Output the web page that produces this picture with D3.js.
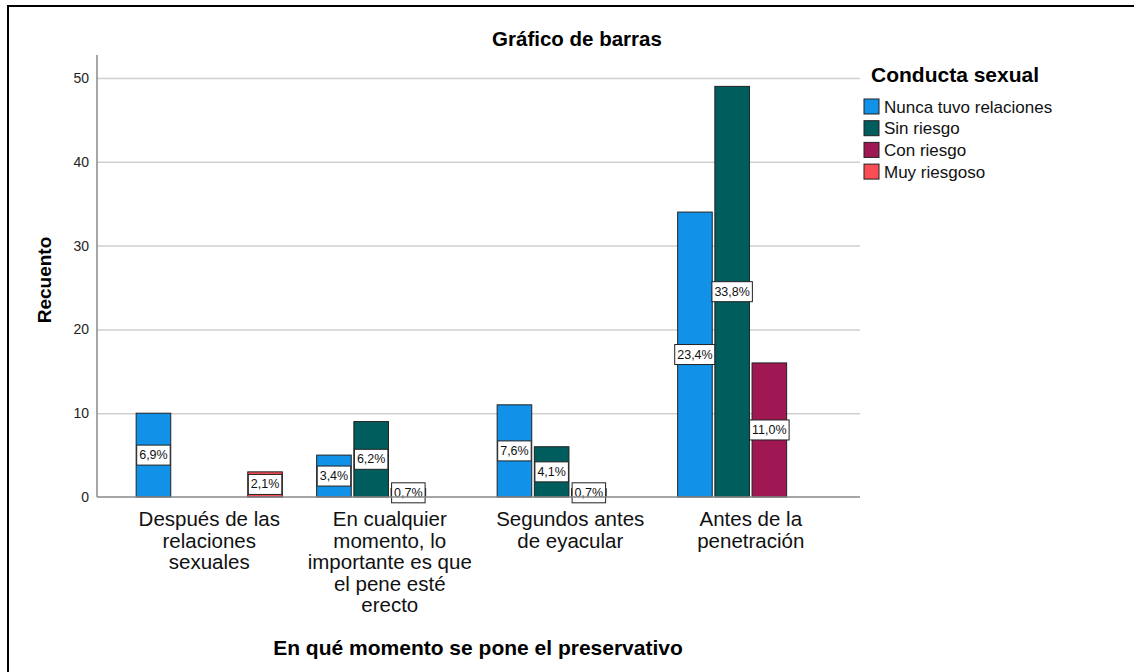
<!DOCTYPE html>
<html>
<head>
<meta charset="utf-8">
<script src="https://cdn.jsdelivr.net/npm/d3@7"></script>
<style>
  body { margin: 0; background: #fff; }
  text { font-family: Arial, "Liberation Sans", sans-serif; }
</style>
</head>
<body>
<svg width="1134" height="672"></svg>
<script>
var categories = [
    "Después de las\nrelaciones\nsexuales",
    "En cualquier\nmomento, lo\nimportante es que\nel pene esté\nerecto",
    "Segundos antes\nde eyacular",
    "Antes de la\npenetración"
];
var series = ["Nunca tuvo relaciones", "Sin riesgo", "Con riesgo", "Muy riesgoso"];
var colors = ["#1192e8", "#005d5d", "#9f1853", "#fa4d56"];
var nunca = [10, 5, 11, 34];
var sinRiesgo = [0, 9, 6, 49];
var conRiesgo = [0, 1, 1, 16];
var muyRiesgoso = [3, 0, 0, 0];
var yTicks = [0, 10, 20, 30, 40, 50];

var values = [nunca, sinRiesgo, conRiesgo, muyRiesgoso];
var total = d3.sum(values, function(v) { return d3.sum(v); });

var svg = d3.select("svg");

// outer frame (only left/top edges visible in the picture)
svg.append("rect")
    .attr("x", 8).attr("y", 6)
    .attr("width", 1200).attr("height", 800)
    .attr("fill", "none")
    .attr("stroke", "#000")
    .attr("stroke-width", 2);

var plotLeft = 97, plotRight = 860, plotTop = 55, plotBottom = 497;

var y = d3.scaleLinear().domain([0, 50]).range([plotBottom, 78]);
var x0 = d3.scaleBand().domain(d3.range(categories.length))
    .range([119, 841]).paddingInner(0.19).paddingOuter(0.095);
var x1 = d3.scaleBand().domain(d3.range(series.length))
    .range([0, x0.bandwidth()]).paddingInner(0.07);

// gridlines
svg.append("g").selectAll("line").data(yTicks.slice(1)).enter().append("line")
    .attr("x1", plotLeft).attr("x2", plotRight)
    .attr("y1", function(d) { return y(d) + 0.5; })
    .attr("y2", function(d) { return y(d) + 0.5; })
    .attr("stroke", "#cfcfcf")
    .attr("stroke-width", 1.5);

// y axis
var yAxis = svg.append("g")
    .attr("transform", "translate(" + plotLeft + ",0)")
    .call(d3.axisLeft(y).tickValues(yTicks).tickSize(0).tickPadding(8));
yAxis.select(".domain").remove();
yAxis.selectAll("text").attr("font-size", 14).attr("fill", "#222")
    .attr("font-family", "Arial, 'Liberation Sans', sans-serif");
svg.append("line")
    .attr("x1", plotLeft).attr("x2", plotLeft).attr("y1", plotTop).attr("y2", plotBottom)
    .attr("stroke", "#888").attr("stroke-width", 1.5);

// bars
var groups = svg.append("g").selectAll("g").data(categories).enter().append("g")
    .attr("transform", function(d, i) { return "translate(" + x0(i) + ",0)"; });

var cells = groups.selectAll("g.cell")
    .data(function(d, i) {
        return series.map(function(s, j) { return {s: j, c: i, v: values[j][i]}; })
            .filter(function(e) { return e.v > 0; });
    })
    .enter().append("g").attr("class", "cell");

cells.append("rect")
    .attr("x", function(d) { return x1(d.s); })
    .attr("y", function(d) { return y(d.v); })
    .attr("width", x1.bandwidth())
    .attr("height", function(d) { return plotBottom - y(d.v); })
    .attr("fill", function(d) { return colors[d.s]; })
    .attr("stroke", "#222")
    .attr("stroke-width", 1);

// x axis line
svg.append("line")
    .attr("x1", plotLeft).attr("x2", plotRight).attr("y1", plotBottom).attr("y2", plotBottom)
    .attr("stroke", "#888").attr("stroke-width", 1.5);

// percent labels
var fmt = d3.format(".1f");
cells.each(function(d) {
    var g = d3.select(this);
    var cx = x1(d.s) + x1.bandwidth() / 2;
    var cy = (y(d.v) + plotBottom) / 2;
    var t = g.append("text")
        .attr("x", cx).attr("y", cy)
        .attr("text-anchor", "middle")
        .attr("dominant-baseline", "central")
        .attr("font-size", 12.5)
        .attr("fill", "#111")
        .text(fmt(d.v / total * 100).replace(".", ",") + "%");
    var w = t.node().getComputedTextLength();
    g.insert("rect", "text")
        .attr("x", cx - w / 2 - 2.5).attr("y", cy - 10)
        .attr("width", w + 5).attr("height", 20)
        .attr("fill", "#fff")
        .attr("stroke", "#222")
        .attr("stroke-width", 1);
});

// category labels
var catText = svg.append("g").selectAll("text").data(categories).enter().append("text")
    .attr("text-anchor", "middle")
    .attr("font-size", 20.5)
    .attr("fill", "#111")
    .attr("transform", function(d, i) { return "translate(" + (x0(i) + x0.bandwidth() / 2) + "," + 526 + ")"; });
catText.selectAll("tspan").data(function(d) { return d.split("\n"); }).enter().append("tspan")
    .attr("x", 0)
    .attr("y", function(d, i) { return i * 21.5; })
    .text(function(d) { return d; });

// titles
svg.append("text")
    .attr("x", 577).attr("y", 46)
    .attr("text-anchor", "middle")
    .attr("font-size", 20.5).attr("font-weight", "bold")
    .text("Gráfico de barras");

svg.append("text")
    .attr("x", 478).attr("y", 655)
    .attr("text-anchor", "middle")
    .attr("font-size", 21).attr("font-weight", "bold")
    .text("En qué momento se pone el preservativo");

svg.append("text")
    .attr("transform", "translate(51,280) rotate(-90)")
    .attr("text-anchor", "middle")
    .attr("font-size", 19).attr("font-weight", "bold")
    .text("Recuento");

// legend
svg.append("text")
    .attr("x", 871).attr("y", 82)
    .attr("font-size", 21).attr("font-weight", "bold")
    .text("Conducta sexual");

var legend = svg.append("g").selectAll("g").data(series).enter().append("g")
    .attr("transform", function(d, i) { return "translate(864," + (99 + i * 21.7) + ")"; });
legend.append("rect")
    .attr("width", 15).attr("height", 15)
    .attr("fill", function(d, i) { return colors[i]; })
    .attr("stroke", "#222").attr("stroke-width", 1);
legend.append("text")
    .attr("x", 20).attr("y", 8)
    .attr("dominant-baseline", "central")
    .attr("font-size", 17)
    .attr("fill", "#111")
    .text(function(d) { return d; });
</script>
</body>
</html>
